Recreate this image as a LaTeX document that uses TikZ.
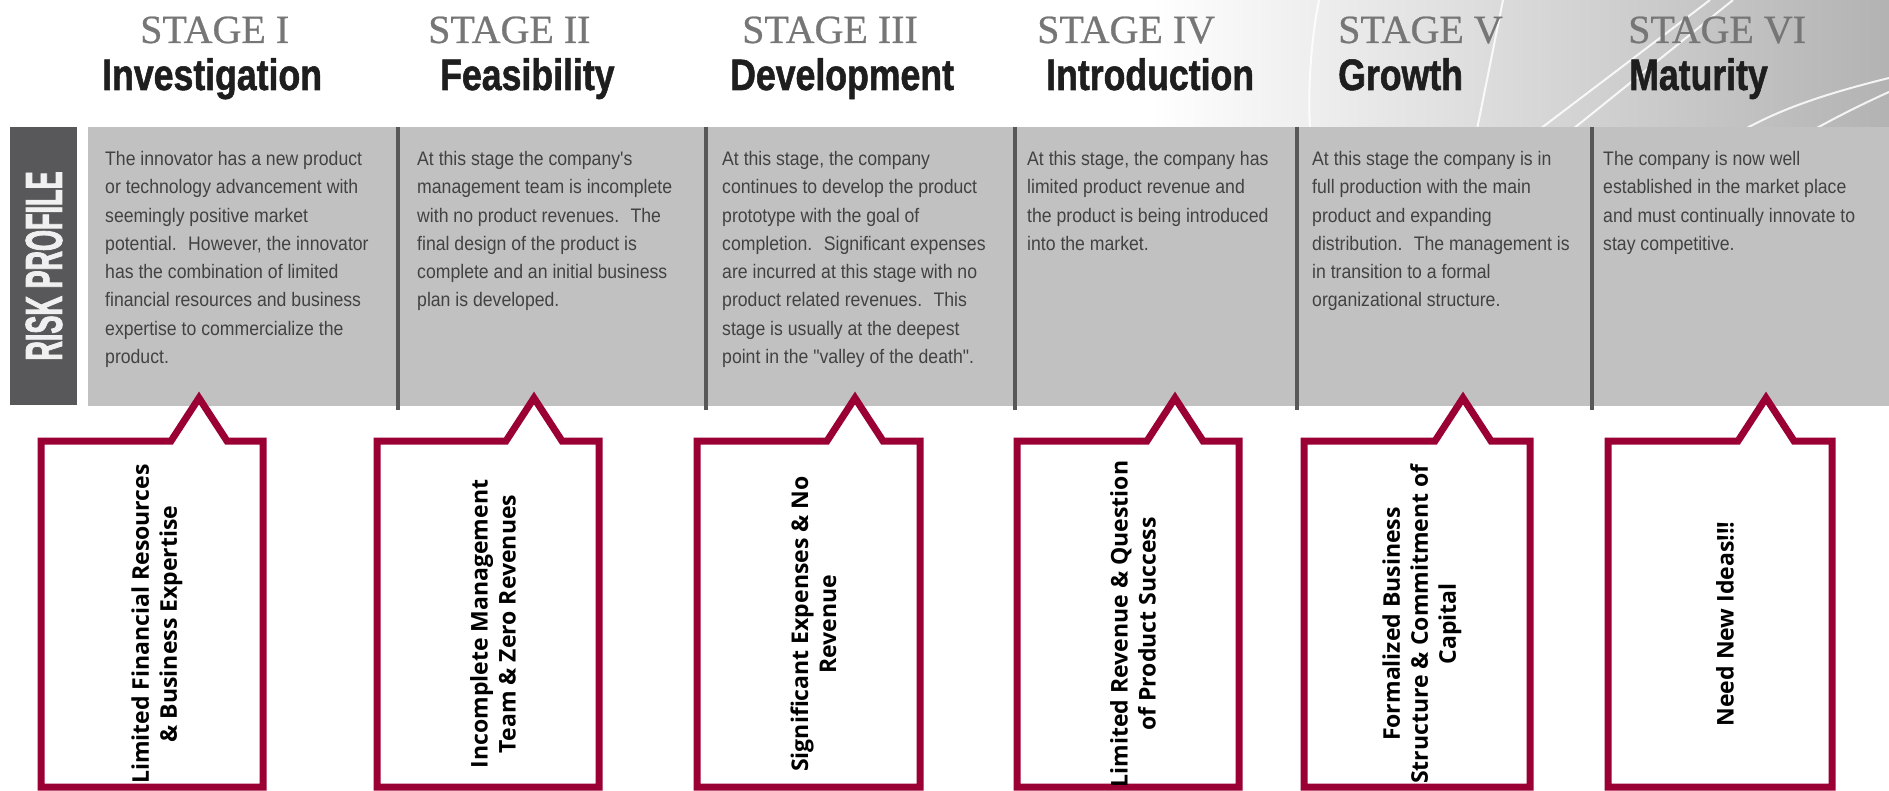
\documentclass[tikz,border=0pt]{standalone}
\usepackage{fontspec}
\newfontfamily\bandfont[FakeStretch=0.9]{Liberation Sans}
\newfontfamily\headfont[FakeStretch=0.81,FakeBold=1.2]{Liberation Sans}
\newfontfamily\riskfont[FakeStretch=0.52,FakeBold=1.5]{Liberation Sans}
\newfontfamily\stagefont[FakeStretch=1.0,FakeBold=0.6]{Liberation Serif}
\newfontfamily\calloutfont{Open Sans}

\definecolor{bandgrey}{RGB}{193,193,193}
\definecolor{divgrey}{RGB}{88,88,88}
\definecolor{riskgrey}{RGB}{88,88,90}
\definecolor{crimson}{RGB}{155,0,52}
\definecolor{bodyink}{RGB}{66,66,66}
\definecolor{stagegrey}{RGB}{118,118,118}
\definecolor{headink}{RGB}{30,30,30}

% one risk callout: left edge, right edge, tip x, node name, text
\newcommand{\calloutbox}[5]{%
  \draw[callout] (#1,787) -- (#1,441) -- ({#3-28},441) -- (#3,398)
        -- ({#3+28},441) -- (#2,441) -- (#2,787) -- cycle;
  \node[callouttext] (#4) at ({(#1+#2)/2+5},624) {#5};
}

\begin{document}
\begin{tikzpicture}[x=1pt,y=-1pt,
  stagelabel/.style={anchor=base west,inner sep=0pt,text=stagegrey,
    font=\stagefont\fontsize{40}{40}\selectfont},
  stagename/.style={anchor=base west,inner sep=0pt,text=headink,
    font=\headfont\bfseries\fontsize{44}{44}\selectfont},
  bodytext/.style={anchor=north west,inner sep=0pt,align=left,text=bodyink,
    font=\bandfont\fontsize{19.6}{28.3}\selectfont},
  divider/.style={draw=divgrey,line width=3.5pt},
  callout/.style={draw=crimson,fill=white,line width=7pt,line join=miter},
  callouttext/.style={rotate=90,align=center,inner sep=0pt,text=black,
    font=\calloutfont\bfseries\fontsize{23}{28}\selectfont},
  swoosh/.style={draw=white,line width=2pt,opacity=0.85}]

\useasboundingbox (0,0) rectangle (1889,791);
\clip (0,0) rectangle (1889,791);
\fill[white] (0,0) rectangle (1889,791);

% header background fading to grey on the right, with light streaks
\shade[left color=white,right color=black!30] (1150,0) rectangle (1889,129);
\draw[swoosh] (1319,0) .. controls (1310,45) and (1308,95) .. (1310,129);
\draw[swoosh] (1503,0) .. controls (1494,45) and (1484,95) .. (1477,129);
\draw[swoosh] (1710,0) -- (1540,129);
\draw[swoosh] (1733,0) -- (1573,129);
\draw[swoosh] (1889,78) .. controls (1820,95) and (1780,110) .. (1745,129);
\draw[swoosh] (1889,92) .. controls (1860,105) and (1835,118) .. (1815,129);

% stage headings
\node[stagelabel] (s1) at (140,43) {STAGE I};
\node[stagename]  (n1) at (102,90) {Investigation};
\node[stagelabel] (s2) at (428,43) {STAGE II};
\node[stagename]  (n2) at (440,90) {Feasibility};
\node[stagelabel] (s3) at (742,43) {STAGE III};
\node[stagename]  (n3) at (730,90) {Development};
\node[stagelabel] (s4) at (1037,43) {STAGE IV};
\node[stagename]  (n4) at (1046,90) {Introduction};
\node[stagelabel] (s5) at (1338,43) {STAGE V};
\node[stagename]  (n5) at (1338,90) {Growth};
\node[stagelabel] (s6) at (1628,43) {STAGE VI};
\node[stagename]  (n6) at (1629,90) {Maturity};

% risk profile band
\fill[riskgrey] (10,127) rectangle (77,405);
\node[rotate=90,inner sep=0pt,text=white!94!black,
  font=\riskfont\bfseries\fontsize{52}{52}\selectfont] (risk) at (44,266) {RISK PROFILE};
\fill[bandgrey] (88,127) rectangle (1889,406);
\foreach \x in {398,706,1015,1297,1592}
  \draw[divider] (\x,127) -- (\x,410);

\node[bodytext] (d1) at (105,151) {The innovator has a new product\\
or technology advancement with\\
seemingly positive market\\
potential.~ However, the innovator\\
has the combination of limited\\
financial resources and business\\
expertise to commercialize the\\
product.};
\node[bodytext] (d2) at (417,151) {At this stage the company's\\
management team is incomplete\\
with no product revenues.~ The\\
final design of the product is\\
complete and an initial business\\
plan is developed.};
\node[bodytext] (d3) at (722,151) {At this stage, the company\\
continues to develop the product\\
prototype with the goal of\\
completion.~ Significant expenses\\
are incurred at this stage with no\\
product related revenues.~ This\\
stage is usually at the deepest\\
point in the "valley of the death".};
\node[bodytext] (d4) at (1027,151) {At this stage, the company has\\
limited product revenue and\\
the product is being introduced\\
into the market.};
\node[bodytext] (d5) at (1312,151) {At this stage the company is in\\
full production with the main\\
product and expanding\\
distribution.~ The management is\\
in transition to a formal\\
organizational structure.};
\node[bodytext] (d6) at (1603,151) {The company is now well\\
established in the market place\\
and must continually innovate to\\
stay competitive.};

% risk callouts pointing up into the band
\calloutbox{41}{263}{199}{c1}{Limited Financial Resources\\ \& Business Expertise}
\calloutbox{377}{599}{534}{c2}{Incomplete Management\\ Team \& Zero Revenues}
\calloutbox{697}{920}{855}{c3}{Significant Expenses \& No\\ Revenue}
\calloutbox{1017}{1239}{1175}{c4}{Limited Revenue \& Question\\ of Product Success}
\calloutbox{1304}{1530}{1463}{c5}{Formalized Business\\ Structure \& Commitment of\\ Capital}
\calloutbox{1608}{1832}{1766}{c6}{Need New Ideas!!!}

\end{tikzpicture}
\end{document}
